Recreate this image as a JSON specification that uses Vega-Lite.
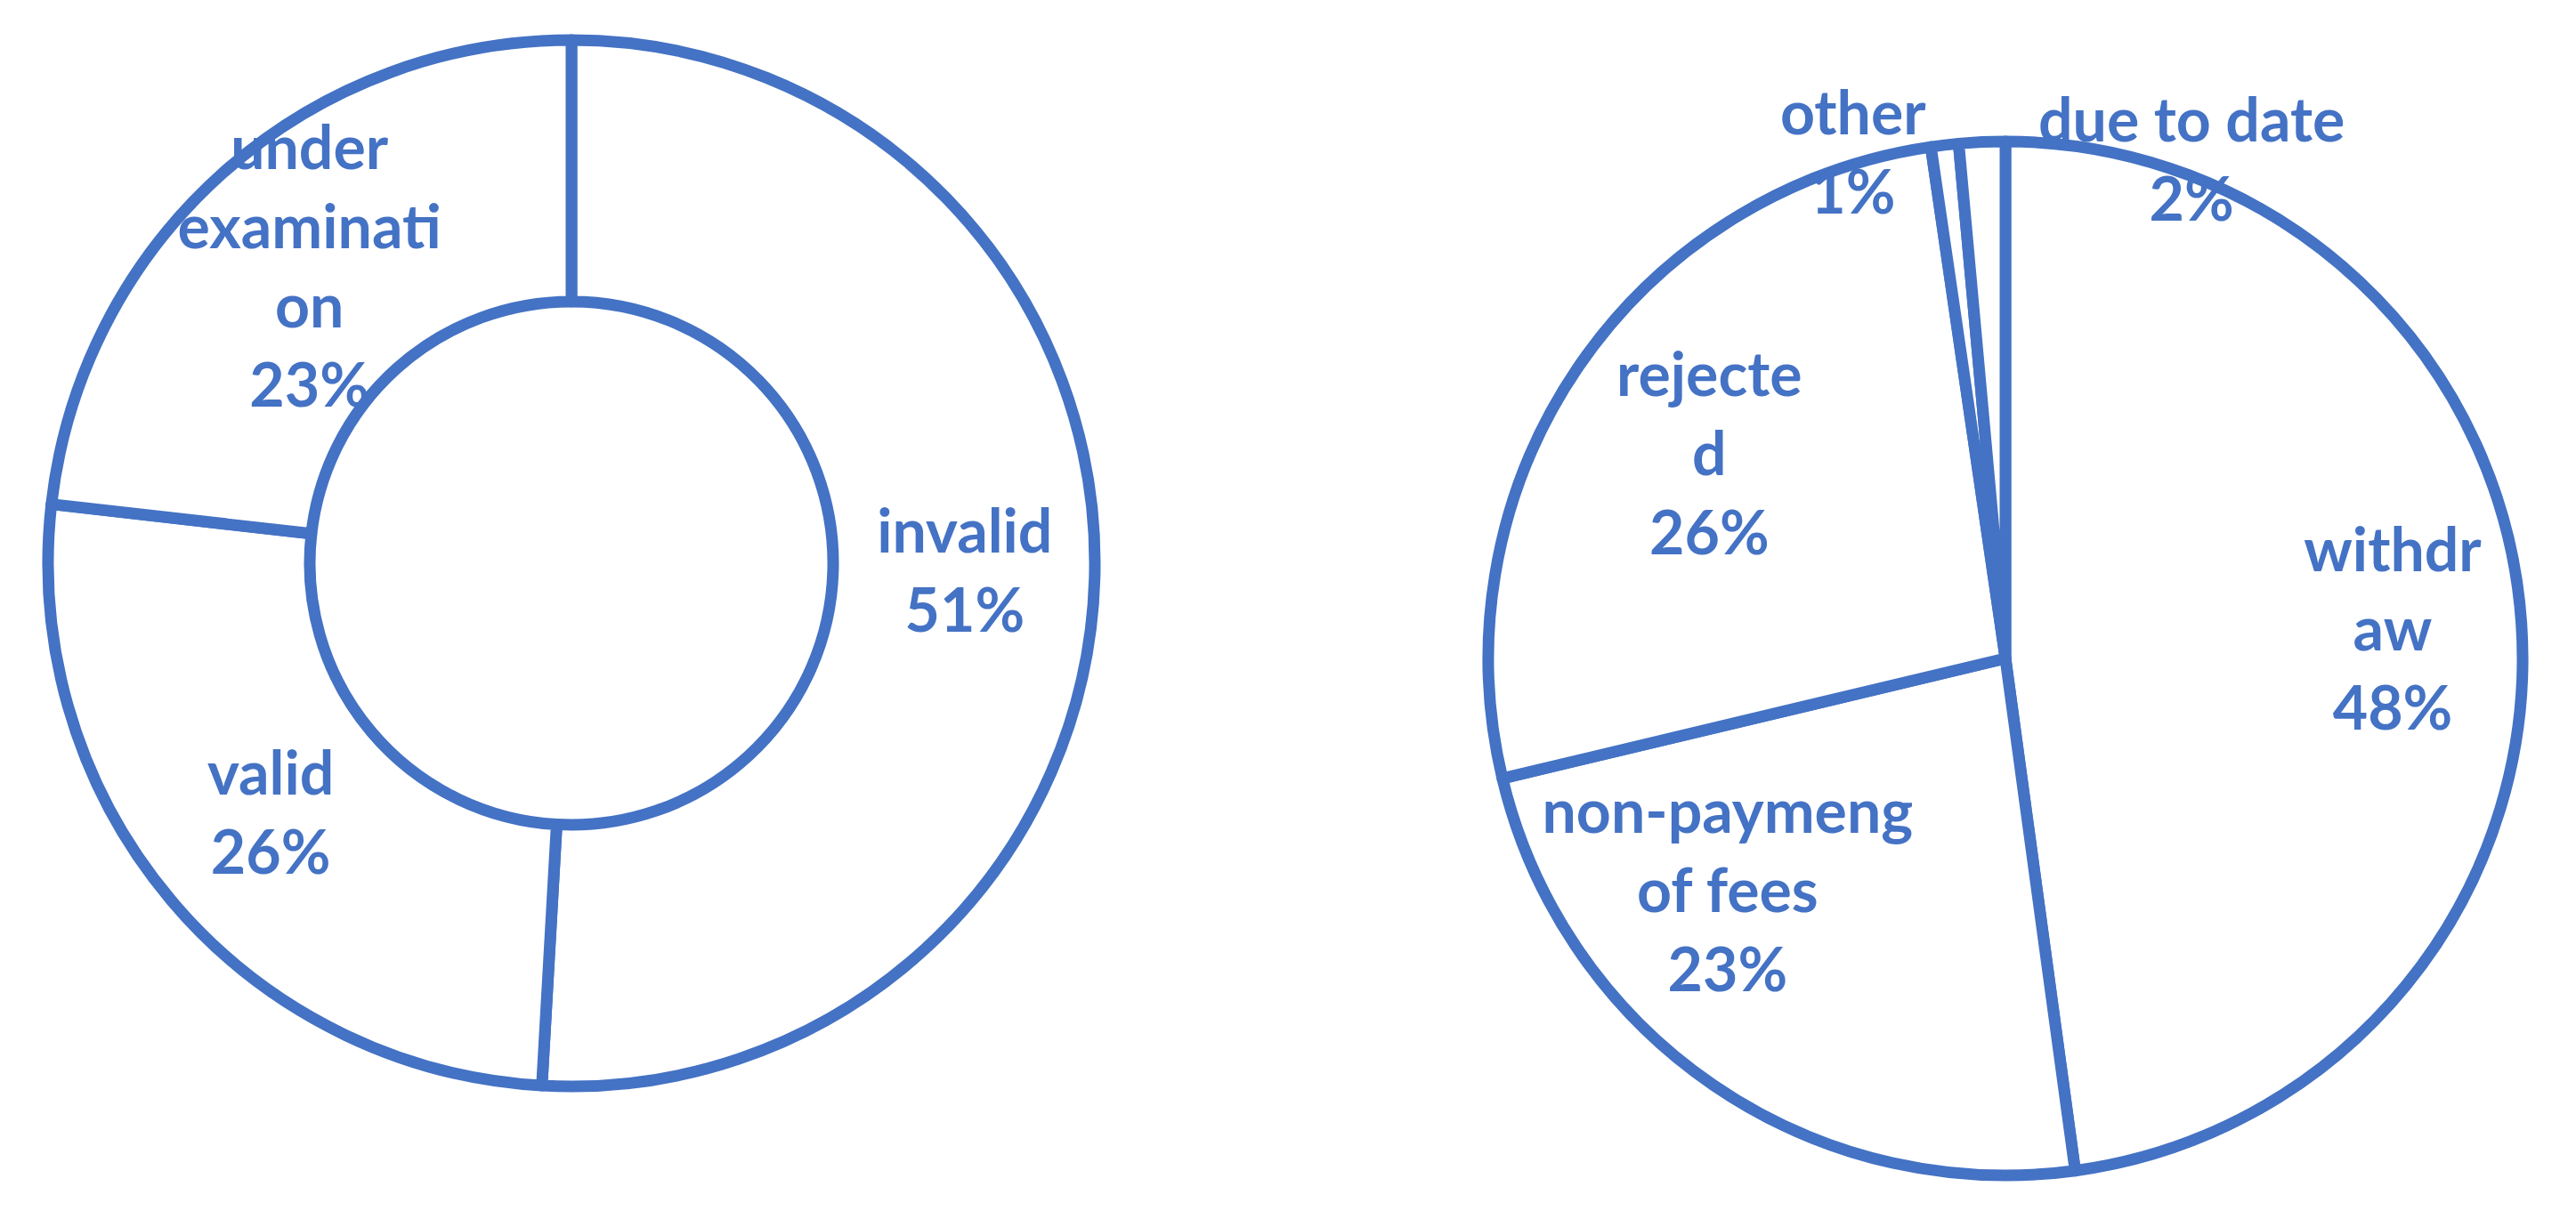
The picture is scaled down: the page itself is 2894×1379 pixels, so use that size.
{
  "$schema": "https://vega.github.io/schema/vega-lite/v6.json",
  "padding": 0,
  "background": "white",
  "config": {"view": {"stroke": null}},
  "datasets": {
    "left": [
      {"idx": 1, "cat": "invalid", "value": 50.9, "label": "invalid\n51%"},
      {"idx": 2, "cat": "valid", "value": 25.9, "label": "valid\n26%"},
      {"idx": 3, "cat": "under examination", "value": 23.2, "label": "under\nexaminati\non\n23%"}
    ],
    "right": [
      {"idx": 1, "cat": "withdraw", "value": 47.8, "label": "withdr\naw\n48%"},
      {"idx": 2, "cat": "non-payment of fees", "value": 23.4, "label": "non-paymeng\nof fees\n23%"},
      {"idx": 3, "cat": "rejected", "value": 26.4, "label": "rejecte\nd\n26%"},
      {"idx": 4, "cat": "other", "value": 0.86, "label": "other\n1%"},
      {"idx": 5, "cat": "due to date", "value": 1.44, "label": "due to date\n2%"}
    ]
  },
  "spacing": 369,
  "bounds": "flush",
  "hconcat": [
    {
      "width": 1284,
      "height": 1266,
      "data": {"name": "left"},
      "layer": [
        {
          "mark": {"type": "arc", "innerRadius": 294, "outerRadius": 588, "fill": "white", "stroke": "#4472C4", "strokeWidth": 13, "strokeJoin": "round"},
          "encoding": {
            "theta": {"field": "value", "type": "quantitative", "stack": true},
            "order": {"field": "idx", "type": "quantitative"}
          }
        },
        {
          "mark": {"type": "text", "radius": 442, "dy": -44.5, "font": "Lato", "fontWeight": "bold", "fontSize": 68, "lineHeight": 89, "lineBreak": "\n", "fill": "#4472C4", "align": "center", "baseline": "middle"},
          "encoding": {
            "theta": {"field": "value", "type": "quantitative", "stack": true},
            "order": {"field": "idx", "type": "quantitative"},
            "text": {"condition": {"test": "datum.cat !== 'under examination'", "field": "label", "type": "nominal"}, "value": ""}
          }
        },
        {
          "mark": {"type": "text", "radius": 442, "dy": -133.5, "font": "Lato", "fontWeight": "bold", "fontSize": 68, "lineHeight": 89, "lineBreak": "\n", "fill": "#4472C4", "align": "center", "baseline": "middle"},
          "encoding": {
            "theta": {"field": "value", "type": "quantitative", "stack": true},
            "order": {"field": "idx", "type": "quantitative"},
            "text": {"condition": {"test": "datum.cat === 'under examination'", "field": "label", "type": "nominal"}, "value": ""}
          }
        }
      ]
    },
    {
      "spacing": 0,
      "bounds": "flush",
      "vconcat": [
        {
          "width": 1200,
          "height": 140,
          "data": {"values": [{}]},
          "mark": {"type": "point", "opacity": 0},
          "encoding": {}
        },
        {
          "width": 1200,
          "height": 1200,
          "data": {"name": "right"},
          "layer": [
            {
              "mark": {"type": "arc", "outerRadius": 581, "fill": "white", "stroke": "#4472C4", "strokeWidth": 13, "strokeJoin": "round"},
              "encoding": {
                "theta": {"field": "value", "type": "quantitative", "stack": true},
                "order": {"field": "idx", "type": "quantitative"}
              }
            },
            {
              "mark": {"type": "text", "radius": 436, "dy": -89, "font": "Lato", "fontWeight": "bold", "fontSize": 68, "lineHeight": 89, "lineBreak": "\n", "fill": "#4472C4", "align": "center", "baseline": "middle"},
              "encoding": {
                "theta": {"field": "value", "type": "quantitative", "stack": true},
                "order": {"field": "idx", "type": "quantitative"},
                "text": {"condition": {"test": "datum.cat === 'withdraw'", "field": "label", "type": "nominal"}, "value": ""}
              }
            },
            {
              "mark": {"type": "text", "radius": 402, "dy": -89, "font": "Lato", "fontWeight": "bold", "fontSize": 68, "lineHeight": 89, "lineBreak": "\n", "fill": "#4472C4", "align": "center", "baseline": "middle"},
              "encoding": {
                "theta": {"field": "value", "type": "quantitative", "stack": true},
                "order": {"field": "idx", "type": "quantitative"},
                "text": {"condition": {"test": "datum.cat === 'rejected'", "field": "label", "type": "nominal"}, "value": ""}
              }
            },
            {
              "mark": {"type": "text", "radius": 409, "dx": -81, "dy": -161, "font": "Lato", "fontWeight": "bold", "fontSize": 68, "lineHeight": 89, "lineBreak": "\n", "fill": "#4472C4", "align": "center", "baseline": "middle"},
              "encoding": {
                "theta": {"field": "value", "type": "quantitative", "stack": true},
                "order": {"field": "idx", "type": "quantitative"},
                "text": {"condition": {"test": "datum.cat === 'non-payment of fees'", "field": "label", "type": "nominal"}, "value": ""}
              }
            },
            {
              "mark": {"type": "text", "radius": 590, "dx": -102, "dy": -23.5, "font": "Lato", "fontWeight": "bold", "fontSize": 68, "lineHeight": 89, "lineBreak": "\n", "fill": "#4472C4", "align": "center", "baseline": "middle"},
              "encoding": {
                "theta": {"field": "value", "type": "quantitative", "stack": true},
                "order": {"field": "idx", "type": "quantitative"},
                "text": {"condition": {"test": "datum.cat === 'other'", "field": "label", "type": "nominal"}, "value": ""}
              }
            },
            {
              "mark": {"type": "text", "radius": 594, "dx": 236, "dy": -7.5, "font": "Lato", "fontWeight": "bold", "fontSize": 68, "lineHeight": 89, "lineBreak": "\n", "fill": "#4472C4", "align": "center", "baseline": "middle"},
              "encoding": {
                "theta": {"field": "value", "type": "quantitative", "stack": true},
                "order": {"field": "idx", "type": "quantitative"},
                "text": {"condition": {"test": "datum.cat === 'due to date'", "field": "label", "type": "nominal"}, "value": ""}
              }
            }
          ]
        }
      ]
    }
  ]
}
